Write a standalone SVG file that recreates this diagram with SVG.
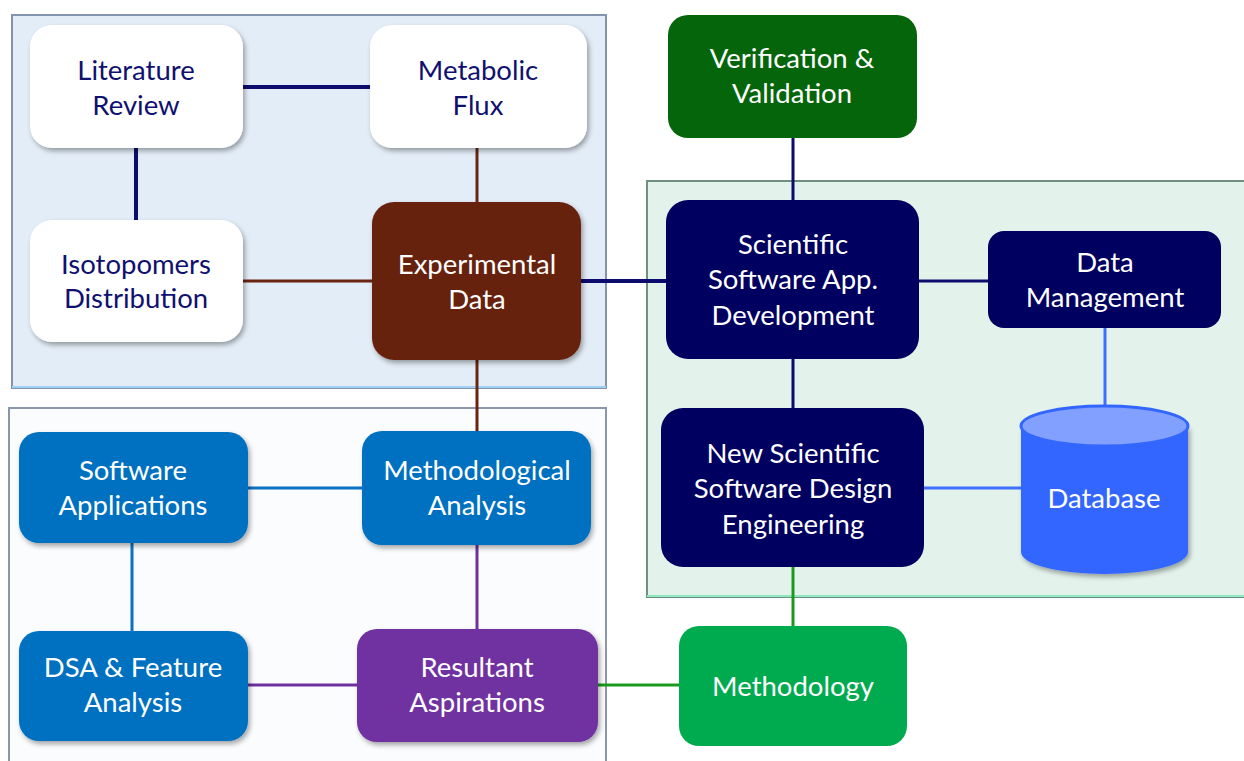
<svg xmlns="http://www.w3.org/2000/svg" width="1244" height="761" viewBox="0 0 1244 761">
<defs>
<filter id="sh" x="-10%" y="-10%" width="125%" height="130%">
<feDropShadow dx="2" dy="3" stdDeviation="2.5" flood-color="#000" flood-opacity="0.35"/>
</filter>
<style>
text{font-family:Lato,"Open Sans","Liberation Sans",sans-serif;font-size:27.5px;text-anchor:middle}
.dk{fill:#101070}
.wt{fill:#ffffff}
.c{fill:none}
</style>
</defs>
<rect width="1244" height="761" fill="#ffffff"/>
<g id="panels">
<rect x="12" y="15" width="594" height="373" fill="#e3edf7" stroke="#8295ad" stroke-width="2"/>
<line x1="12" y1="387" x2="606" y2="387" stroke="#9fd0f5" stroke-width="2"/>
<rect x="9" y="408" width="597" height="360" fill="#fbfcfe" stroke="#8a97a8" stroke-width="2"/>
<rect x="647" y="181" width="600" height="416" fill="#e3f3ec" stroke="#6f8f7f" stroke-width="2"/>
<line x1="647" y1="596" x2="1244" y2="596" stroke="#8fe8c0" stroke-width="2"/>
</g>
<g id="connectors" class="c">
<line x1="243" y1="87" x2="370" y2="87" stroke="#0c0c6e" stroke-width="4"/>
<line x1="136" y1="148" x2="136" y2="220" stroke="#0c0c6e" stroke-width="4"/>
<line x1="477" y1="148" x2="477" y2="202" stroke="#6a2510" stroke-width="3"/>
<line x1="243" y1="281" x2="372" y2="281" stroke="#6a2510" stroke-width="3"/>
<line x1="581" y1="281" x2="666" y2="281" stroke="#0c0c6e" stroke-width="4"/>
<line x1="477" y1="360" x2="477" y2="431" stroke="#6a2510" stroke-width="3"/>
<line x1="793" y1="138" x2="793" y2="200" stroke="#0c0c6e" stroke-width="3"/>
<line x1="919" y1="281" x2="988" y2="281" stroke="#0c0c6e" stroke-width="3"/>
<line x1="793" y1="359" x2="793" y2="408" stroke="#0c0c6e" stroke-width="3"/>
<line x1="1105" y1="328" x2="1105" y2="406" stroke="#3f6fff" stroke-width="3"/>
<line x1="924" y1="488" x2="1021" y2="488" stroke="#3f6fff" stroke-width="3"/>
<line x1="793" y1="567" x2="793" y2="626" stroke="#1a9a1a" stroke-width="3"/>
<line x1="598" y1="685" x2="679" y2="685" stroke="#1a9a1a" stroke-width="3"/>
<line x1="248" y1="488" x2="362" y2="488" stroke="#0a72c4" stroke-width="3"/>
<line x1="132" y1="543" x2="132" y2="631" stroke="#0a72c4" stroke-width="3"/>
<line x1="477" y1="545" x2="477" y2="629" stroke="#7030a0" stroke-width="3"/>
<line x1="248" y1="685" x2="357" y2="685" stroke="#7030a0" stroke-width="3"/>
</g>
<g id="literature-review">
<rect x="30" y="25" width="213" height="123" rx="22" fill="#ffffff" filter="url(#sh)"/>
<text class="dk" x="136" y="80">Literature</text>
<text class="dk" x="136" y="115">Review</text>
</g>
<g id="metabolic-flux">
<rect x="370" y="25" width="217" height="123" rx="22" fill="#ffffff" filter="url(#sh)"/>
<text class="dk" x="478" y="80">Metabolic</text>
<text class="dk" x="478" y="115">Flux</text>
</g>
<g id="isotopomers-distribution">
<rect x="30" y="220" width="213" height="122" rx="22" fill="#ffffff" filter="url(#sh)"/>
<text class="dk" x="136" y="274">Isotopomers</text>
<text class="dk" x="136" y="308">Distribution</text>
</g>
<g id="experimental-data">
<rect x="372" y="202" width="209" height="158" rx="22" fill="#66230f" filter="url(#sh)"/>
<text class="wt" x="477" y="274">Experimental</text>
<text class="wt" x="477" y="309">Data</text>
</g>
<g id="verification-validation">
<rect x="668" y="15" width="249" height="123" rx="20" fill="#05650a"/>
<text class="wt" x="792" y="68">Verification &amp;</text>
<text class="wt" x="792" y="103">Validation</text>
</g>
<g id="scientific-software-app">
<rect x="666" y="200" width="253" height="159" rx="22" fill="#000060"/>
<text class="wt" x="793" y="254">Scientific</text>
<text class="wt" x="793" y="289">Software App.</text>
<text class="wt" x="793" y="325">Development</text>
</g>
<g id="data-management">
<rect x="988" y="231" width="233" height="97" rx="16" fill="#000060"/>
<text class="wt" x="1105" y="272">Data</text>
<text class="wt" x="1105" y="307">Management</text>
</g>
<g id="new-scientific-software">
<rect x="661" y="408" width="263" height="159" rx="22" fill="#000060"/>
<text class="wt" x="793" y="463">New Scientific</text>
<text class="wt" x="793" y="498">Software Design</text>
<text class="wt" x="793" y="534">Engineering</text>
</g>
<g id="database">
<path d="M1021,426 L1021,552 A83.5,22 0 0 0 1188,552 L1188,426 Z" fill="#3366ff" filter="url(#sh)"/>
<ellipse cx="1104.5" cy="426" rx="83.5" ry="20" fill="#82a0ff" stroke="#3366ff" stroke-width="3"/>
<text class="wt" x="1104" y="508">Database</text>
</g>
<g id="methodology">
<rect x="679" y="626" width="228" height="120" rx="20" fill="#00ab4f"/>
<text class="wt" x="793" y="696">Methodology</text>
</g>
<g id="software-applications">
<rect x="19" y="432" width="229" height="111" rx="20" fill="#0070c0" filter="url(#sh)"/>
<text class="wt" x="133" y="480">Software</text>
<text class="wt" x="133" y="515">Applications</text>
</g>
<g id="methodological-analysis">
<rect x="362" y="431" width="229" height="114" rx="20" fill="#0070c0" filter="url(#sh)"/>
<text class="wt" x="477" y="480">Methodological</text>
<text class="wt" x="477" y="515">Analysis</text>
</g>
<g id="dsa-feature-analysis">
<rect x="19" y="631" width="229" height="110" rx="20" fill="#0070c0" filter="url(#sh)"/>
<text class="wt" x="133" y="677">DSA &amp; Feature</text>
<text class="wt" x="133" y="712">Analysis</text>
</g>
<g id="resultant-aspirations">
<rect x="357" y="629" width="241" height="113" rx="20" fill="#7030a0" filter="url(#sh)"/>
<text class="wt" x="477" y="677">Resultant</text>
<text class="wt" x="477" y="712">Aspirations</text>
</g>
</svg>
